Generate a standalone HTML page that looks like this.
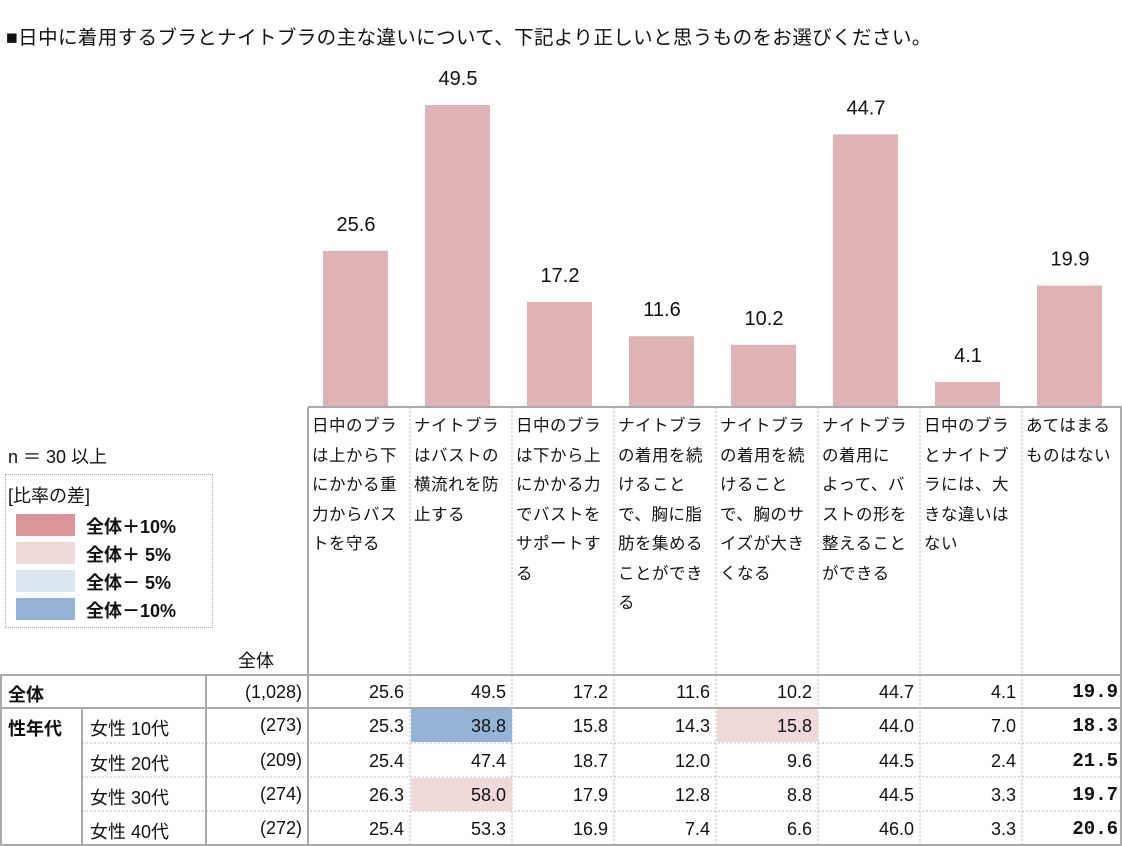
<!DOCTYPE html>
<html><head><meta charset="utf-8"><style>
body{margin:0;width:1122px;height:846px;background:#fff;position:relative;overflow:hidden;font-family:"Liberation Sans","Noto Sans CJK JP",sans-serif;color:#111}
.a{position:absolute}
.hd{font-size:16.5px;line-height:29.5px;padding:2px 0 0 4px;box-sizing:border-box;letter-spacing:0.5px}
.num{font-size:18px;text-align:right;box-sizing:border-box;padding-right:6px;line-height:34px}
</style></head><body>
<div class="a" style="left:6px;top:21px;font-size:19.5px;letter-spacing:0.4px">■日中に着用するブラとナイトブラの主な違いについて、下記より正しいと思うものをお選びください。</div>
<div class="a" style="left:8px;top:443px;font-size:18px">n ＝ 30 以上</div>
<div class="a" style="left:5px;top:474px;width:206px;height:152px;border:1px dotted #aaa">
<div style="position:absolute;left:2px;top:7px;font-size:18px">[比率の差]</div>
<div style="position:absolute;left:10px;top:39px;width:59px;height:22px;background:#d9959a"></div><div style="position:absolute;left:80px;top:38px;font-size:18px;font-weight:bold">全体＋10%</div>
<div style="position:absolute;left:10px;top:67px;width:59px;height:22px;background:#f1d9da"></div><div style="position:absolute;left:80px;top:66px;font-size:18px;font-weight:bold">全体＋ 5%</div>
<div style="position:absolute;left:10px;top:95px;width:59px;height:22px;background:#dce6f1"></div><div style="position:absolute;left:80px;top:94px;font-size:18px;font-weight:bold">全体－ 5%</div>
<div style="position:absolute;left:10px;top:123px;width:59px;height:22px;background:#95b3d7"></div><div style="position:absolute;left:80px;top:122px;font-size:18px;font-weight:bold">全体－10%</div>
</div>
<div class="a" style="left:238px;top:647px;font-size:18px">全体</div>
<svg class="a" style="left:0;top:0" width="1122" height="846" id="svg"></svg>
<div id="tbl"></div>
<script>
const categories=["日中のブラは上から下にかかる重力からバストを守る","ナイトブラはバストの横流れを防止する","日中のブラは下から上にかかる力でバストをサポートする","ナイトブラの着用を続けることで、胸に脂肪を集めることができる","ナイトブラの着用を続けることで、胸のサイズが大きくなる","ナイトブラの着用によって、バストの形を整えることができる","日中のブラとナイトブラには、大きな違いはない","あてはまるものはない"];
const catLines=[["日中のブラ","は上から下","にかかる重","力からバス","トを守る"],["ナイトブラ","はバストの","横流れを防","止する"],["日中のブラ","は下から上","にかかる力","でバストを","サポートす","る"],["ナイトブラ","の着用を続","けること","で、胸に脂","肪を集める","ことができ","る"],["ナイトブラ","の着用を続","けること","で、胸のサ","イズが大き","くなる"],["ナイトブラ","の着用に","よって、バ","ストの形を","整えること","ができる"],["日中のブラ","とナイトブ","ラには、大","きな違いは","ない"],["あてはまる","ものはない"]];
const totalValues=[25.6,49.5,17.2,11.6,10.2,44.7,4.1,19.9];
const rowLabels=["女性 10代","女性 20代","女性 30代","女性 40代"];
const rowN=["(273)","(209)","(274)","(272)"];
const rowValues=[[25.3,38.8,15.8,14.3,15.8,44.0,7.0,18.3],[25.4,47.4,18.7,12.0,9.6,44.5,2.4,21.5],[26.3,58.0,17.9,12.8,8.8,44.5,3.3,19.7],[25.4,53.3,16.9,7.4,6.6,46.0,3.3,20.6]];
const colX=i=>308+i*102;
const yS=v=>407-v*6.1;
const svg=document.getElementById('svg');
const NS="http://www.w3.org/2000/svg";
function mk(t,at){const e=document.createElementNS(NS,t);for(const k in at)e.setAttribute(k,at[k]);svg.appendChild(e);return e;}
totalValues.forEach((v,i)=>{
 const r=mk('rect',{x:colX(i)+15,y:yS(v),width:65,height:407-yS(v),fill:'#dfb3b5'});
 
 
 const t=mk('text',{x:colX(i)+48,y:yS(v)-20,'text-anchor':'middle','font-size':20,fill:'#111'});
 t.textContent=v.toFixed(1);
 
 
});
const G='#aaa';
mk('line',{x1:308,y1:407,x2:1122,y2:407,stroke:G,'stroke-width':2});
mk('line',{x1:308,y1:407,x2:308,y2:846,stroke:G,'stroke-width':2});
for(let i=1;i<8;i++)mk('line',{x1:colX(i),y1:407,x2:colX(i),y2:846,stroke:'#bbb','stroke-dasharray':'2,2'});
mk('line',{x1:0,y1:675,x2:1122,y2:675,stroke:G,'stroke-width':2});
mk('line',{x1:0,y1:708,x2:1122,y2:708,stroke:G,'stroke-width':2});
mk('line',{x1:0,y1:845,x2:1122,y2:845,stroke:G,'stroke-width':2});
[743,777,811].forEach(y=>mk('line',{x1:82,y1:y,x2:1122,y2:y,stroke:'#bbb','stroke-dasharray':'2,2'}));
mk('line',{x1:1,y1:675,x2:1,y2:846,stroke:G,'stroke-width':2});
mk('line',{x1:206,y1:675,x2:206,y2:846,stroke:G,'stroke-width':2});
mk('line',{x1:82,y1:708,x2:82,y2:846,stroke:G,'stroke-width':2});
mk('line',{x1:1121,y1:407,x2:1121,y2:846,stroke:G,'stroke-width':2});
const tbl=document.getElementById('tbl');
function div(css,txt,name){const d=document.createElement('div');d.className='a '+(css.c||'');d.style.cssText=css.s;d.textContent=txt;
 
 
 tbl.appendChild(d);return d;}
catLines.forEach((ls,i)=>{div({c:'hd',s:`left:${colX(i)}px;top:410px;width:102px`},'',"category-label-"+(i+1)).innerHTML=ls.join('<br>');});
div({s:'left:8px;top:681px;font-size:18px;font-weight:bold'},'全体','row-total-label');
div({c:'num',s:'left:206px;top:675px;width:102px'},'(1,028)','row-total-n');
const valStyle=(i)=>i==7?'font-family:"Liberation Mono",monospace;font-weight:bold;font-size:19px;':'';
totalValues.forEach((v,i)=>div({c:'num',s:`left:${colX(i)}px;top:675px;width:102px;${valStyle(i)}`},v.toFixed(1),'total-cell-'+(i+1)));
div({s:'left:8px;top:715px;font-size:18px;font-weight:bold'},'性年代','group-label');
const rowTops=[708,743,777,811];
rowValues.forEach((row,r)=>{
 div({s:`left:90px;top:${rowTops[r]+7}px;font-size:18px`},rowLabels[r],'row-label-'+(r+1));
 div({c:'num',s:`left:206px;top:${rowTops[r]}px;width:102px`},rowN[r],'row-n-'+(r+1));
 row.forEach((v,i)=>{
  const d=v-totalValues[i];let bg='';
  if(i<7){if(d>=10)bg='#d9959a';else if(d>=5)bg='#f1d9da';else if(d<=-10)bg='#95b3d7';else if(d<=-5)bg='#dce6f1';}
  div({c:'num',s:`left:${colX(i)+1}px;top:${rowTops[r]+1}px;width:101px;height:33px;line-height:34px;${bg?'background:'+bg+';':''}${valStyle(i)}`},v.toFixed(1),'cell-r'+(r+1)+'-c'+(i+1));
 });
});
</script>
</body></html>
